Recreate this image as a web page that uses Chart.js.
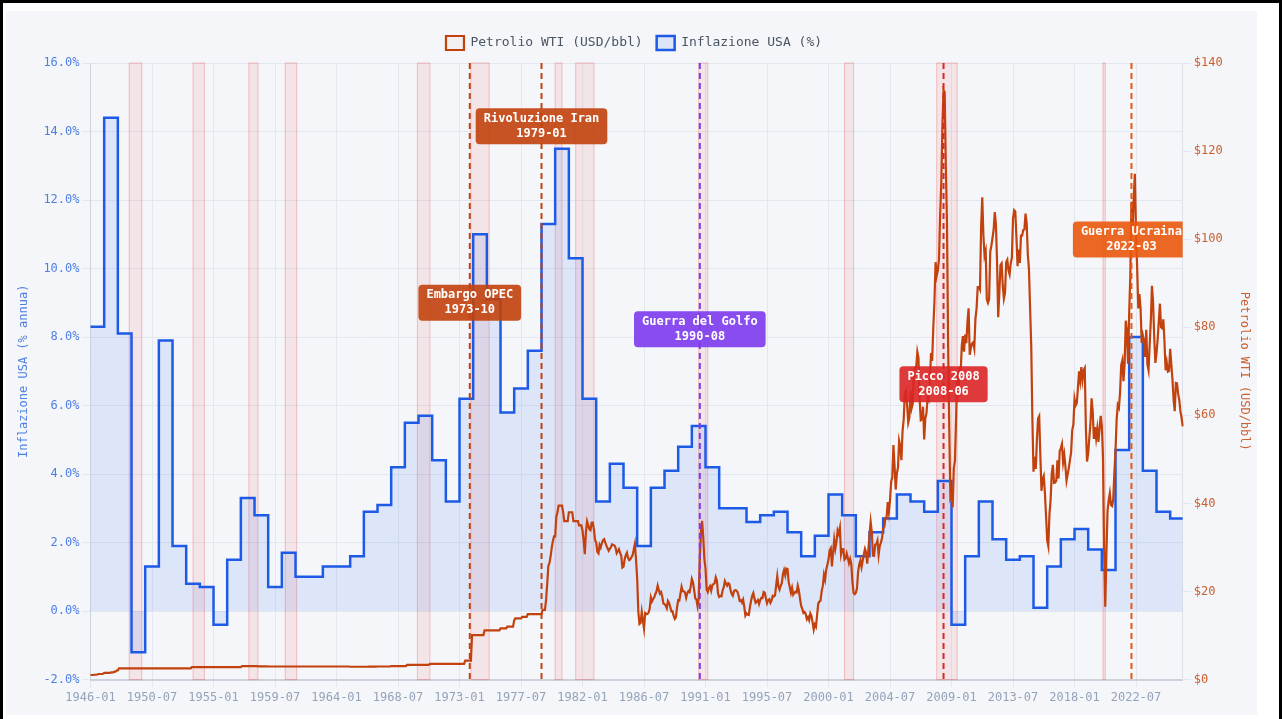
<!DOCTYPE html>
<html>
<head>
<meta charset="utf-8">
<script src="https://cdn.jsdelivr.net/npm/chart.js@4.4.1/dist/chart.umd.min.js"></script>
<style>
  html, body { margin: 0; padding: 0; background: #fff; overflow: hidden; }
  #frame { position: absolute; left: 0; top: 0; width: 1276px; height: 760px; border: 3px solid #000; }
  #wrap { position: absolute; left: 3px; top: 8px; width: 1251px; height: 704px; background: #f4f6fa; }
</style>
</head>
<body>
<div id="frame"><div id="wrap"><canvas id="chart"></canvas></div></div>
<script>
// monthly categories 1946-01 .. 2025-12
const startYear = 1946;
const endYear = 2025;
const months = [];
for (let y = startYear; y <= endYear; y++) {
  for (let m = 1; m <= 12; m++) months.push(y + '-' + String(m).padStart(2, '0'));
}

// US inflation, % per year (one value per year, drawn as steps)
const inflationYears = [];
for (let y = startYear; y <= endYear; y++) inflationYears.push(y);
const inflation = [
  8.3, 14.4, 8.1, -1.2, 1.3, 7.9, 1.9, 0.8, 0.7, -0.4,
  1.5, 3.3, 2.8, 0.7, 1.7, 1.0, 1.0, 1.3, 1.3, 1.6,
  2.9, 3.1, 4.2, 5.5, 5.7, 4.4, 3.2, 6.2, 11.0, 9.1,
  5.8, 6.5, 7.6, 11.3, 13.5, 10.3, 6.2, 3.2, 4.3, 3.6,
  1.9, 3.6, 4.1, 4.8, 5.4, 4.2, 3.0, 3.0, 2.6, 2.8,
  2.9, 2.3, 1.6, 2.2, 3.4, 2.8, 1.6, 2.3, 2.7, 3.4,
  3.2, 2.9, 3.8, -0.4, 1.6, 3.2, 2.1, 1.5, 1.6, 0.1,
  1.3, 2.1, 2.4, 1.8, 1.2, 4.7, 8.0, 4.1, 2.9, 2.7
];

// WTI crude, USD/bbl, monthly (one row per year)
const oil = [
  1.05,1.05,1.05,1.10,1.10,1.10,1.17,1.27,1.27,1.27,1.27,1.32,
  1.52,1.52,1.52,1.52,1.52,1.52,1.62,1.62,1.62,1.82,1.82,2.07,
  2.07,2.57,2.57,2.57,2.57,2.57,2.57,2.57,2.57,2.57,2.57,2.57,
  2.57,2.57,2.57,2.57,2.57,2.57,2.57,2.57,2.57,2.57,2.57,2.57,
  2.57,2.57,2.57,2.57,2.57,2.57,2.57,2.57,2.57,2.57,2.57,2.57,
  2.57,2.57,2.57,2.57,2.57,2.57,2.57,2.57,2.57,2.57,2.57,2.57,
  2.57,2.57,2.57,2.57,2.57,2.57,2.57,2.57,2.57,2.57,2.57,2.57,
  2.57,2.57,2.57,2.57,2.57,2.82,2.82,2.82,2.82,2.82,2.82,2.82,
  2.82,2.82,2.82,2.82,2.82,2.82,2.82,2.82,2.82,2.82,2.82,2.82,
  2.82,2.82,2.82,2.82,2.82,2.82,2.82,2.82,2.82,2.82,2.82,2.82,
  2.82,2.82,2.82,2.82,2.82,2.82,2.82,2.82,2.82,2.82,2.82,2.82,
  2.82,3.07,3.07,3.07,3.07,3.07,3.07,3.07,3.07,3.07,3.07,3.07,
  3.07,3.07,3.07,3.00,3.00,3.00,3.00,3.00,3.00,3.00,3.00,3.00,
  2.97,2.97,2.97,2.97,2.97,2.97,2.97,2.97,2.97,2.97,2.97,2.97,
  2.97,2.97,2.97,2.97,2.97,2.97,2.97,2.97,2.97,2.97,2.97,2.97,
  2.97,2.97,2.97,2.97,2.97,2.97,2.97,2.97,2.97,2.97,2.97,2.97,
  2.97,2.97,2.97,2.97,2.97,2.97,2.97,2.97,2.97,2.97,2.97,2.97,
  2.97,2.97,2.97,2.97,2.97,2.97,2.97,2.97,2.97,2.97,2.97,2.97,
  2.97,2.97,2.97,2.97,2.97,2.97,2.97,2.97,2.97,2.97,2.97,2.97,
  2.92,2.92,2.92,2.92,2.92,2.92,2.92,2.92,2.92,2.92,2.92,2.92,
  2.92,2.92,2.92,2.92,2.94,2.94,2.94,2.94,2.94,2.94,2.94,2.94,
  2.97,2.97,2.97,2.97,2.97,2.97,2.97,2.97,2.97,2.97,2.97,2.97,
  3.07,3.07,3.07,3.07,3.07,3.07,3.07,3.07,3.07,3.07,3.07,3.07,
  3.07,3.07,3.35,3.35,3.35,3.35,3.35,3.35,3.35,3.35,3.35,3.35,
  3.35,3.35,3.35,3.35,3.35,3.35,3.35,3.35,3.35,3.35,3.56,3.56,
  3.56,3.56,3.56,3.56,3.56,3.56,3.56,3.56,3.56,3.56,3.56,3.56,
  3.56,3.56,3.56,3.56,3.56,3.56,3.56,3.56,3.56,3.56,3.56,3.56,
  3.56,3.56,3.56,3.56,3.56,4.31,4.31,4.31,4.31,4.31,4.31,10.11,
  10.11,10.11,10.11,10.11,10.11,10.11,10.11,10.11,10.11,10.11,11.16,11.16,
  11.16,11.16,11.16,11.16,11.16,11.16,11.16,11.16,11.16,11.16,11.16,11.16,
  11.65,11.65,11.65,11.65,11.65,11.65,12.03,12.03,12.03,12.03,12.03,12.03,
  13.45,13.90,13.90,13.90,13.90,13.90,13.90,14.22,14.22,14.22,14.22,14.22,
  14.85,14.85,14.85,14.85,14.85,14.85,14.85,14.85,14.85,14.85,14.85,14.85,
  14.85,15.85,15.85,15.85,18.10,21.75,25.80,26.50,28.00,30.00,31.50,32.50,
  32.50,37.00,38.00,39.50,39.50,39.50,39.50,38.00,36.00,36.00,36.00,36.00,
  38.00,38.00,38.00,38.00,36.00,36.00,36.00,36.00,36.00,35.00,35.00,35.00,
  33.85,31.56,28.48,33.45,35.93,35.07,34.16,33.95,35.63,35.68,34.15,31.72,
  31.18,29.00,28.66,30.61,30.00,31.00,31.66,31.90,31.11,30.41,29.84,29.24,
  29.70,30.11,30.72,30.56,30.49,29.97,28.70,29.17,29.60,28.75,28.13,25.43,
  25.63,27.31,28.25,28.81,27.62,27.13,27.32,27.81,28.25,29.54,30.81,27.23,
  22.93,15.46,12.61,12.84,15.38,13.43,11.58,15.10,14.87,14.90,15.22,16.11,
  18.65,17.75,18.30,18.68,19.44,20.07,21.34,20.31,19.53,19.86,18.85,17.28,
  17.13,16.80,16.20,17.86,17.42,16.53,15.50,15.52,14.54,13.77,14.14,16.38,
  18.02,17.94,19.48,21.07,20.12,20.05,19.78,18.58,19.59,20.10,19.86,21.10,
  22.86,22.11,20.39,18.43,18.20,16.70,18.45,27.31,33.51,36.04,32.33,27.28,
  25.23,20.48,19.90,20.83,21.23,20.19,21.40,21.69,21.89,23.23,22.46,19.50,
  18.79,19.01,18.92,20.23,20.98,22.39,21.78,21.34,21.88,21.69,20.34,19.41,
  19.03,20.09,20.32,20.25,19.95,19.09,17.89,18.01,17.50,18.15,16.61,14.52,
  15.03,14.78,14.68,16.42,17.89,19.06,19.66,18.38,17.45,17.72,18.07,17.16,
  18.04,18.57,18.54,19.90,19.74,18.45,17.33,18.02,18.23,17.43,17.99,19.03,
  18.85,19.09,21.33,23.50,21.17,20.42,21.30,21.90,23.97,24.88,23.71,25.23,
  25.13,22.18,20.97,19.70,20.82,19.26,19.66,19.95,19.80,21.33,20.19,18.33,
  16.72,16.06,15.12,15.35,14.91,13.72,14.17,13.47,15.03,14.46,13.00,11.35,
  12.52,12.01,14.68,17.31,17.72,17.92,20.10,21.28,23.80,22.69,25.00,26.10,
  27.26,29.37,29.84,25.72,28.79,31.82,29.70,31.26,33.88,33.11,34.42,28.44,
  29.59,29.61,27.25,27.49,28.63,27.60,26.43,27.37,26.20,22.17,19.64,19.39,
  19.72,20.72,24.53,26.18,27.04,25.52,26.97,28.39,29.66,28.84,26.35,29.46,
  32.95,35.83,33.51,28.17,28.11,30.66,30.75,31.57,28.31,30.34,31.11,32.13,
  34.31,34.69,36.74,36.75,40.28,38.03,40.78,44.90,45.94,53.28,48.47,43.15,
  46.84,48.15,54.19,52.98,49.83,56.35,59.00,64.99,65.59,62.26,58.32,59.41,
  65.49,61.63,62.69,69.44,70.84,70.95,74.41,73.04,63.80,58.89,59.08,61.96,
  54.51,59.28,60.44,63.98,63.46,67.49,74.12,72.36,79.92,85.80,94.77,91.69,
  92.97,95.39,105.45,112.58,125.40,133.88,133.37,116.67,104.11,76.61,57.31,41.12,
  41.71,39.09,47.94,49.65,59.03,69.64,64.15,71.05,69.41,75.72,77.99,74.47,
  78.33,76.39,81.20,84.29,73.74,75.34,76.32,76.60,75.24,81.89,84.25,89.15,
  89.17,88.58,102.86,109.53,100.90,96.26,97.30,86.33,85.52,86.32,97.16,98.56,
  100.27,102.20,106.16,103.32,94.66,82.30,87.90,94.13,94.51,89.49,86.53,87.86,
  94.76,95.31,92.94,92.02,94.51,95.77,104.67,106.57,106.29,100.54,93.86,97.63,
  94.62,100.82,100.80,102.07,102.18,105.79,103.59,96.54,93.21,84.40,75.79,59.29,
  47.22,50.58,47.82,54.45,59.27,59.82,50.90,42.87,45.48,46.22,42.44,37.19,
  31.68,30.32,37.55,40.75,46.71,48.76,44.65,44.72,45.18,49.78,45.66,51.97,
  52.50,53.47,49.33,51.06,48.48,45.18,46.63,48.04,49.82,51.58,56.64,57.88,
  63.70,62.23,62.73,66.25,69.98,67.87,70.98,68.06,70.23,70.75,56.96,49.52,
  51.38,54.95,58.15,63.86,60.83,54.66,57.35,54.81,56.95,53.96,57.03,59.88,
  57.52,50.54,29.21,16.55,28.56,38.31,40.71,42.34,39.63,39.40,40.94,47.02,
  52.00,59.04,62.33,61.72,65.17,71.38,72.49,67.73,71.65,81.48,79.15,71.71,
  83.22,91.64,108.50,101.78,109.55,114.84,101.62,93.67,84.26,87.55,84.37,76.44,
  78.12,76.83,73.28,79.45,71.58,70.25,76.07,81.39,89.43,85.64,77.69,71.90,
  74.15,77.25,81.28,85.35,80.02,79.77,81.80,76.68,70.24,71.99,69.95,70.12,
  75.10,71.53,68.24,63.54,60.94,67.33,67.25,64.86,63.53,60.89,59.50,57.50
];

// NBER recessions (start, end)
const recessionStart = ['1948-11','1953-07','1957-08','1960-04','1969-12','1973-11','1980-01','1981-07','1990-07','2001-03','2007-12','2020-02'];
const recessionEnd   = ['1949-10','1954-05','1958-04','1961-02','1970-11','1975-03','1980-07','1982-11','1991-03','2001-11','2009-06','2020-04'];

// events
const eventDates = ['1973-10', '1979-01', '1990-08', '2008-06', '2022-03'];
const eventNames = ['Embargo OPEC', 'Rivoluzione Iran', 'Guerra del Golfo', 'Picco 2008', 'Guerra Ucraina'];

// styling for event markers (not data)
const eventColors = ['#c2410c', '#c2410c', '#7c3aed', '#dc2626', '#ea580c'];
const eventLabelLevel = [9.0, 14.15, 8.23, 6.62, 10.85]; // label centre, on the % axis

const inflationPoints = inflationYears.map((y, i) => ({ x: y + '-01', y: inflation[i] }));
inflationPoints.push({ x: months[months.length - 1], y: inflation[inflation.length - 1] });

const MONO = "'DejaVu Sans Mono', 'Liberation Mono', monospace";

const overlay = {
  id: 'overlay',
  beforeInit(chart) {
    // a little more room under the legend
    const legend = chart.legend;
    if (legend) {
      const fit = legend.fit;
      legend.fit = function () { fit.call(this); this.height += 3; };
    }
  },
  beforeDatasetsDraw(chart) {
    const { ctx, chartArea: a, scales: { x } } = chart;
    ctx.save();
    recessionStart.forEach((s, i) => {
      const x0 = x.getPixelForValue(months.indexOf(s));
      const x1 = x.getPixelForValue(months.indexOf(recessionEnd[i]));
      ctx.fillStyle = 'rgba(239, 68, 68, 0.1)';
      ctx.fillRect(x0, a.top, x1 - x0, a.bottom - a.top);
      ctx.strokeStyle = 'rgba(239, 68, 68, 0.3)';
      ctx.lineWidth = 1;
      ctx.strokeRect(x0, a.top, x1 - x0, a.bottom - a.top);
    });
    ctx.restore();
  },
  afterDatasetsDraw(chart) {
    const { ctx, chartArea: a, scales: { x, y } } = chart;
    ctx.save();
    ctx.beginPath();
    ctx.rect(a.left, a.top, a.right - a.left, a.bottom - a.top);
    ctx.clip();
    eventDates.forEach((d, i) => {
      const px = x.getPixelForValue(months.indexOf(d));
      ctx.setLineDash([6, 4]);
      ctx.lineWidth = 2;
      ctx.strokeStyle = eventColors[i];
      ctx.beginPath();
      ctx.moveTo(px, a.top);
      ctx.lineTo(px, a.bottom);
      ctx.stroke();
    });
    ctx.setLineDash([]);
    ctx.font = 'bold 12px ' + MONO;
    ctx.textAlign = 'center';
    ctx.textBaseline = 'middle';
    eventDates.forEach((d, i) => {
      const px = x.getPixelForValue(months.indexOf(d));
      const cy = y.getPixelForValue(eventLabelLevel[i]);
      const lines = [eventNames[i], d];
      const w = Math.max(...lines.map(t => ctx.measureText(t).width)) + 16;
      const h = 36;
      ctx.globalAlpha = 0.9;
      ctx.fillStyle = eventColors[i];
      ctx.beginPath();
      ctx.roundRect(px - w / 2, cy - h / 2, w, h, 4);
      ctx.fill();
      ctx.globalAlpha = 1;
      ctx.fillStyle = '#ffffff';
      ctx.fillText(lines[0], px, cy - 7.5);
      ctx.fillText(lines[1], px, cy + 7.5);
    });
    ctx.restore();
  }
};

Chart.defaults.font.family = MONO;
Chart.defaults.font.size = 12;

new Chart(document.getElementById('chart'), {
  type: 'line',
  data: {
    labels: months,
    datasets: [
      {
        label: 'Petrolio WTI (USD/bbl)',
        data: oil,
        yAxisID: 'y1',
        borderColor: '#c2410c',
        backgroundColor: 'rgba(194, 65, 12, 0.04)',
        borderWidth: 2.2,
        pointRadius: 0,
        tension: 0,
        fill: false
      },
      {
        label: 'Inflazione USA (%)',
        data: inflationPoints,
        yAxisID: 'y',
        stepped: true,
        borderColor: '#1d5ae6',
        backgroundColor: 'rgba(37, 99, 235, 0.11)',
        borderWidth: 2.5,
        pointRadius: 0,
        fill: 'origin'
      }
    ]
  },
  options: {
    responsive: true,
    maintainAspectRatio: false,
    animation: false,
    devicePixelRatio: 1,
    layout: { padding: { left: 7, right: 2, top: 11, bottom: 7 } },
    plugins: {
      legend: {
        position: 'top',
        labels: { boxWidth: 18, boxHeight: 14, padding: 14, color: '#4b5563', font: { size: 13, family: MONO } }
      },
      tooltip: { enabled: false }
    },
    scales: {
      x: {
        ticks: { autoSkip: true, maxTicksLimit: 18, maxRotation: 0, minRotation: 0, color: '#94a3b8' },
        grid: { color: '#e3e7ef', tickLength: 8 },
        border: { color: '#cbd2dc', width: 2 }
      },
      y: {
        position: 'left',
        min: -2,
        max: 16,
        ticks: { stepSize: 2, color: '#4f80e1', callback: v => v.toFixed(1) + '%' },
        grid: { color: '#e3e7ef', tickLength: 8 },
        border: { color: '#cbd2dc' },
        title: { display: true, text: 'Inflazione USA (% annua)', color: '#4f80e1', font: { size: 12 }, padding: { top: 4, bottom: 9 } }
      },
      y1: {
        position: 'right',
        min: 0,
        max: 140,
        ticks: { stepSize: 20, color: '#cc5f2e', callback: v => '$' + v },
        grid: { drawOnChartArea: false, color: '#e3e7ef', tickLength: 8 },
        border: { color: '#dde2ea' },
        title: { display: true, text: 'Petrolio WTI (USD/bbl)', color: '#cc5f2e', font: { size: 12 }, padding: { top: 4, bottom: 11 } }
      }
    }
  },
  plugins: [overlay]
});
</script>
</body>
</html>
